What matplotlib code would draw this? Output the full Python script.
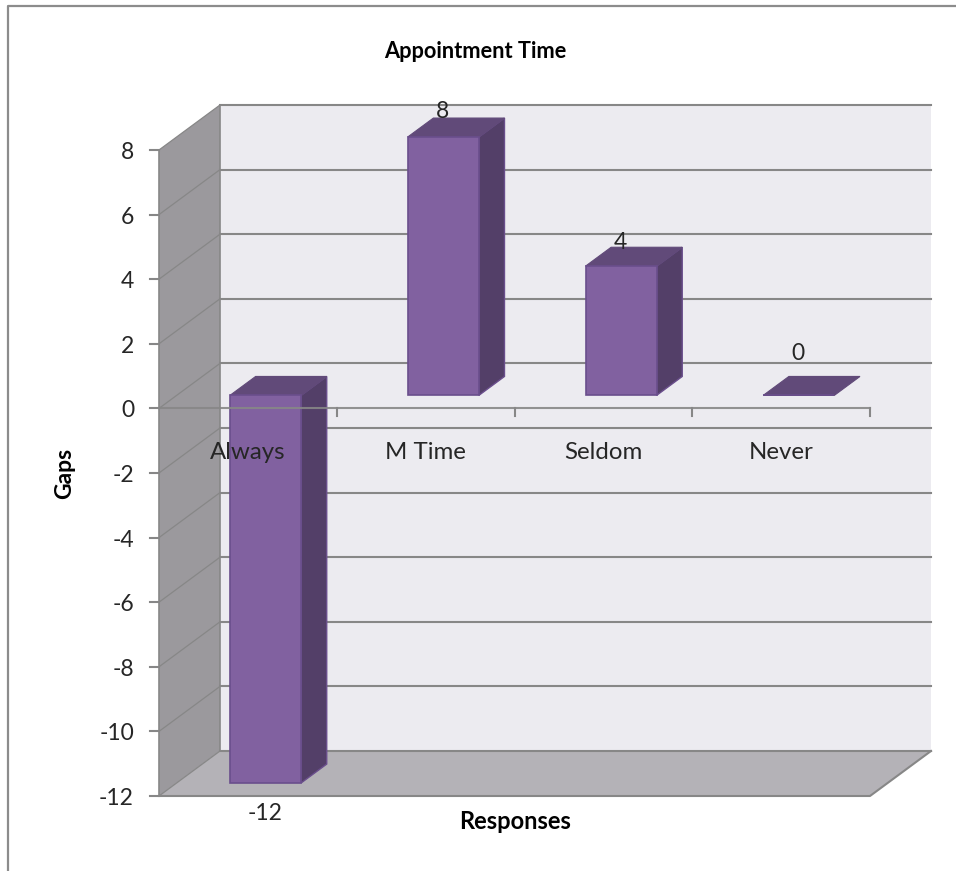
import matplotlib
matplotlib.use('Agg')
import matplotlib.pyplot as plt
from matplotlib.lines import Line2D
from matplotlib.transforms import Affine2D

plt.rcParams['font.family'] = ['Lato', 'DejaVu Sans']

# Data
categories = ['Always', 'M Time', 'Seldom', 'Never']
gaps = [-12, 8, 4, 0]
y_ticks = [8, 6, 4, 2, 0, -2, -4, -6, -8, -10, -12]
label_shift = [-18, 38, 37, 55]  # pixels from the value to its label

W, H = 956, 871
DEPTH_X, DEPTH_Y = 61, 45  # oblique depth of the chart box, pixels
BAR_START = 0.29  # where the bar sits inside the depth
BAR_DEPTH = 0.42
BAR_WIDTH = 0.4
BAR_SHIFT = BAR_START * DEPTH_X

GRID = '#878787'
WALL = '#9b999d'
FLOOR = '#b4b2b7'
BACK = '#ecebf0'
FRONT = '#8161a0'
SIDE = '#533f68'
TOP = '#614a79'
EDGE = '#6a4e8c'
TEXT = '#262626'

fig = plt.figure(figsize=(W / 100, H / 100), dpi=100, facecolor='white')
ax = fig.add_axes([159 / W, (H - 796) / H, 711 / W, 646 / H])
ax.set_xlim(0, 4)
ax.set_ylim(-12, 8)
ax.axis('off')


# transData moved by some pixels, used for everything drawn in depth
def shifted(dx, dy):
    return ax.transData + Affine2D().translate(dx, dy)


back = shifted(DEPTH_X, DEPTH_Y)

# Walls and floor
ax.fill([0, 4, 4, 0], [-12, -12, 8, 8], color=BACK, lw=0, transform=back, clip_on=False, zorder=1)
side_x = [0, 61 / 711 * 4, 61 / 711 * 4, 0]
side_y = [-12, -12 + 45 / 32.3, 8 + 45 / 32.3, 8]
ax.fill(side_x, side_y, color=WALL, lw=0, clip_on=False, zorder=1)
floor_x = [0, 4, 4 + 61 / 711 * 4, 61 / 711 * 4]
floor_y = [-12, -12, -12 + 45 / 32.3, -12 + 45 / 32.3]
ax.fill(floor_x, floor_y, color=FLOOR, lw=0, clip_on=False, zorder=1)

# Gridlines on the back wall and their diagonals on the side wall
for v in y_ticks:
    ax.plot([0, 4], [v, v], color=GRID, lw=1.5, transform=back, clip_on=False, zorder=2)
    ax.plot([0, 61 / 711 * 4], [v, v + 45 / 32.3], color=GRID, lw=0.9, clip_on=False, zorder=2)
    # y tick and label
    ax.plot([-9 / 711 * 4, 0], [v, v], color=GRID, lw=1.5, clip_on=False, zorder=2)
    ax.text(0, v, str(v), transform=shifted(-25, -2.5), ha='right', va='center',
            fontsize=16.5, color=TEXT, zorder=6)
ax.plot([0, 0], [-12, 8], color=GRID, lw=1.2, clip_on=False, zorder=2)
ax.plot([61 / 711 * 4] * 2, [-12 + 45 / 32.3, 8 + 45 / 32.3], color=GRID, lw=1.2, clip_on=False, zorder=2)

# Floor front edge
ax.plot([0, 4, 4 + 61 / 711 * 4], [-12, -12, -12 + 45 / 32.3], color=GRID, lw=1.5,
        clip_on=False, zorder=2)

# Bars: side and top faces, then the front from ax.bar
xs = [i + 0.5 for i in range(len(categories))]
front_tr = shifted(BAR_SHIFT, BAR_START * DEPTH_Y)
deep_tr = shifted(BAR_SHIFT + BAR_DEPTH * DEPTH_X, (BAR_START + BAR_DEPTH) * DEPTH_Y)
for x, g in zip(xs, gaps):
    left, right = x - BAR_WIDTH / 2, x + BAR_WIDTH / 2
    p_low = front_tr.transform([(right, min(g, 0))])[0]
    p_high = front_tr.transform([(right, max(g, 0))])[0]
    q_low = deep_tr.transform([(right, min(g, 0))])[0]
    q_high = deep_tr.transform([(right, max(g, 0))])[0]
    p_left = front_tr.transform([(left, max(g, 0))])[0]
    q_left = deep_tr.transform([(left, max(g, 0))])[0]
    if g != 0:
        ax.fill([p_low[0], q_low[0], q_high[0], p_high[0]], [p_low[1], q_low[1], q_high[1], p_high[1]],
                facecolor=SIDE, edgecolor=EDGE, lw=1, transform=None, clip_on=False, zorder=3)
    ax.fill([p_left[0], p_high[0], q_high[0], q_left[0]], [p_left[1], p_high[1], q_high[1], q_left[1]],
            facecolor=TOP, edgecolor=TOP, lw=0.8, transform=None, clip_on=False, zorder=3)

ax.bar(xs, gaps, BAR_WIDTH, color=FRONT, edgecolor=EDGE, lw=1.2, transform=front_tr,
       clip_on=False, zorder=4)

# Category axis at zero, drawn over the bars
ax.plot([0, 4], [0, 0], color=GRID, lw=1.5, alpha=0.9, clip_on=False, zorder=5)
for t in range(1, 5):
    ax.plot([t, t], [0, -8 / 32.3], color=GRID, lw=1.5, clip_on=False, zorder=5)

for x, name in zip(xs, categories):
    ax.text(x, 0, name, transform=shifted(0, -44), ha='center', va='center',
            fontsize=17.3, color=TEXT, zorder=6)

# Value labels
for x, g, s in zip(xs, gaps, label_shift):
    ax.text(x, g, str(g), transform=shifted(BAR_SHIFT - 1, s), ha='center', va='center',
            fontsize=16.5, color=TEXT, zorder=6)

# Titles, placed in figure pixels
fig.text(475 / W, 1 - 52 / H, 'Appointment Time', ha='center', va='center',
         fontsize=15.7, fontweight='bold', color='black')
fig.text(65 / W, 1 - 473 / H, 'Gaps', rotation=90, ha='center', va='center',
         fontsize=16.5, fontweight='bold', color='black')
fig.text(515 / W, 1 - 821 / H, 'Responses', ha='center', va='center',
         fontsize=17, fontweight='bold', color='black')

# Chart frame, only top and left are in the crop
fig.add_artist(Line2D([8 / W, 8 / W, 1], [0, 1 - 6 / H, 1 - 6 / H], color='#8c8c8c', lw=1.6,
                      transform=fig.transFigure))

fig.savefig('out.png', dpi=100)
